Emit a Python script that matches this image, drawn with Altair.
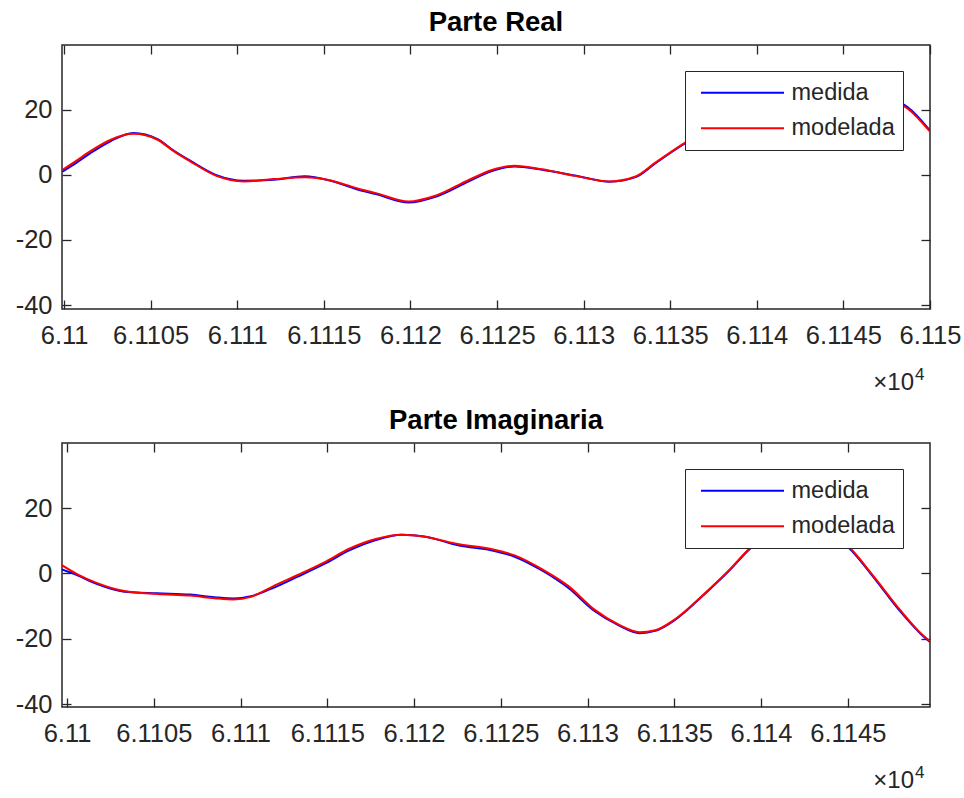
import altair as alt
import pandas as pd

# ---- Parte real: sample position and the two traces ----
real_t = [61099.9, 61100.7, 61101.5, 61102.7, 61104.0, 61105.4, 61106.35, 61107.3, 61108.8,
          61110.4, 61112.1, 61113.9, 61115.4, 61116.9, 61118.0, 61119.9, 61121.4, 61123.4,
          61124.7, 61126.0, 61127.6, 61129.5, 61131.5, 61133.0, 61134.1, 61135.8, 61138.0,
          61140.0, 61142.0, 61144.0, 61146.0, 61147.3, 61148.7, 61150.0]
real_medida = [1.0, 3.7, 6.6, 10.4, 12.9, 11.0, 7.4, 4.3, -0.1,
               -1.8, -1.5, -0.4, -1.8, -4.4, -5.9, -8.5, -6.8, -1.9,
               1.2, 2.6, 1.6, -0.2, -2.1, -0.7, 3.4, 9.5, 15.8,
               20.3, 22.8, 24.1, 24.5, 23.9, 20.8, 13.6]
real_modelada = [1.5, 4.3, 7.2, 10.8, 12.6, 10.8, 7.2, 4.1, -0.3,
                 -2.0, -1.3, -0.7, -1.7, -4.1, -5.6, -8.2, -6.5, -1.5,
                 1.5, 2.8, 1.7, -0.3, -2.0, -0.5, 3.6, 9.7, 16.0,
                 20.5, 23.0, 24.3, 24.6, 23.8, 20.4, 13.3]

# ---- Parte imaginaria ----
imag_t = [61099.7, 61100.6, 61101.7, 61103.3, 61105.2, 61107.1, 61108.5, 61109.6, 61110.6,
          61111.9, 61113.3, 61114.8, 61116.3, 61117.8, 61119.3, 61120.6, 61122.6, 61124.5,
          61125.8, 61127.4, 61128.9, 61130.4, 61131.8, 61133.0, 61133.9, 61135.0, 61136.8,
          61138.2, 61139.4, 61140.8, 61142.2, 61143.7, 61145.1, 61146.4, 61148.0, 61149.3,
          61149.74]
imag_medida = [1.2, -0.6, -3.2, -5.6, -6.1, -6.5, -7.3, -7.7, -7.0,
               -4.4, -1.0, 2.8, 7.1, 10.2, 11.8, 11.3, 8.5, 7.0,
               5.1, 0.8, -4.5, -11.5, -15.9, -18.3, -17.6, -14.4, -6.1,
               1.0, 7.7, 12.6, 14.6, 13.0, 7.6, -0.6, -11.5, -19.0, -21.0]
imag_modelada = [2.5, -0.3, -2.9, -5.4, -6.3, -6.8, -7.6, -8.0, -7.2,
                 -3.9, -0.5, 3.3, 7.6, 10.5, 11.8, 11.2, 8.9, 7.4,
                 5.5, 1.2, -3.9, -11.1, -15.7, -18.0, -17.4, -14.2, -5.9,
                 1.2, 7.9, 12.8, 14.8, 13.2, 7.9, -0.3, -11.1, -18.8, -20.8]

SERIES = ["medida", "modelada"]
COLORS = ["#0000ff", "#ff0000"]
Y_TICKS = [-40, -20, 0, 20]
REAL_X_TICKS = [61100 + 5 * i for i in range(11)]
IMAG_X_TICKS = [61100 + 5 * i for i in range(10)]

W, H = 868, 264
FONT = "Liberation Sans"
INK = "#262626"


def frame(t, med, mod):
    rows = [{"t": a, "v": b, "serie": "medida"} for a, b in zip(t, med)]
    rows += [{"t": a, "v": b, "serie": "modelada"} for a, b in zip(t, mod)]
    return pd.DataFrame(rows)


def panel(df, title, xdom, xticks, ydom):
    xs = alt.Scale(domain=xdom, nice=False, zero=False)
    ys = alt.Scale(domain=ydom, nice=False, zero=False)
    label_common = dict(domain=False, grid=False, ticks=False, tickSize=0, labelOverlap=False,
                        labelFlush=False, labelFont=FONT, labelFontSize=25.5, labelColor=INK,
                        title=None)
    tick_common = dict(domain=False, grid=False, labels=False, ticks=True, tickSize=9,
                       tickColor=INK, tickWidth=1.3, offset=-9, title=None)

    lines = alt.Chart(df).mark_line(strokeWidth=2, clip=True, interpolate="monotone").encode(
        x=alt.X("t:Q", scale=xs,
                axis=alt.Axis(orient="bottom", values=xticks, labelPadding=14,
                              labelExpr="format(datum.value / 10000, '.5~f')", **label_common)),
        y=alt.Y("v:Q", scale=ys,
                axis=alt.Axis(orient="left", values=Y_TICKS, labelPadding=10,
                              labelExpr="datum.value < 0 ? '-' + abs(datum.value) : '' + datum.value",
                              **label_common)),
        color=alt.Color("serie:N", scale=alt.Scale(domain=SERIES, range=COLORS),
                        legend=alt.Legend(orient="none", legendX=623, legendY=26, title=None,
                                          fillColor="white", strokeColor=INK, padding=7.5,
                                          symbolType="stroke", symbolSize=6889,
                                          symbolStrokeWidth=2, symbolOffset=7.5,
                                          labelOffset=6.5, clipHeight=28.4, rowPadding=6.6,
                                          labelFont=FONT, labelFontSize=23.5, labelColor=INK)),
    )

    ticks_bl = alt.Chart(df).mark_point(opacity=0).encode(
        x=alt.X("t:Q", scale=xs, axis=alt.Axis(orient="bottom", values=xticks, **tick_common)),
        y=alt.Y("v:Q", scale=ys, axis=alt.Axis(orient="left", values=Y_TICKS, **tick_common)),
    )
    ticks_tr = alt.Chart(df).mark_point(opacity=0).encode(
        x=alt.X("t:Q", scale=xs, axis=alt.Axis(orient="top", values=xticks, **tick_common)),
        y=alt.Y("v:Q", scale=ys, axis=alt.Axis(orient="right", values=Y_TICKS, **tick_common)),
    )

    mult = alt.Chart(pd.DataFrame({"s": ["\u00d710"]})).mark_text(
        font=FONT, fontSize=24, color=INK, align="right", baseline="alphabetic"
    ).encode(text="s:N", x=alt.value(W - 16), y=alt.value(H + 81))
    expo = alt.Chart(pd.DataFrame({"s": ["4"]})).mark_text(
        font=FONT, fontSize=17, color=INK, align="left", baseline="alphabetic"
    ).encode(text="s:N", x=alt.value(W - 15), y=alt.value(H + 71))

    return alt.layer(lines, ticks_bl, ticks_tr, mult, expo).resolve_scale(
        x="independent", y="independent"
    ).resolve_axis(x="independent", y="independent").properties(
        width=W, height=H,
        title=alt.TitleParams(text=title, font=FONT, fontSize=27.5, fontWeight="bold",
                              color="black", anchor="middle", offset=8),
    )


top = panel(frame(real_t, real_medida, real_modelada), "Parte Real",
            [61099.88, 61150.0], REAL_X_TICKS, [-41.2, 39.9])
bottom = panel(frame(imag_t, imag_medida, imag_modelada), "Parte Imaginaria",
               [61099.71, 61149.74], IMAG_X_TICKS, [-40.9, 39.9])

chart = alt.vconcat(top, bottom, spacing=10).resolve_legend(color="independent").configure(
    background="white",
    padding={"left": 14, "top": 8, "right": 0, "bottom": 5},
).configure_view(stroke=INK, strokeWidth=1.5)

chart.save("out.html", embed_options={"renderer": "svg", "actions": False})
